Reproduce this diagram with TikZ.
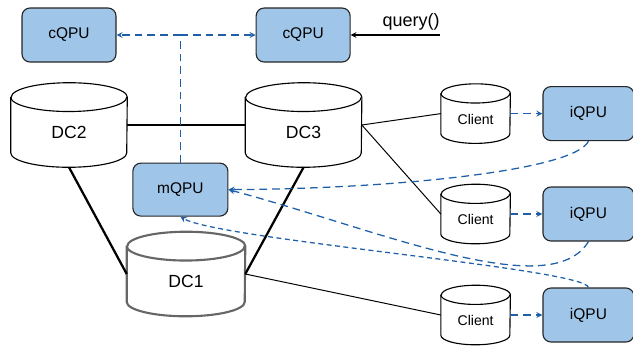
\documentclass[tikz,border=0pt]{standalone}
\usepackage{fontspec}
\setmainfont{Liberation Sans}
\usetikzlibrary{arrows, positioning}
\usepackage{xcolor}

\definecolor{qpufill}{HTML}{9FC5E8}
\definecolor{linkblue}{HTML}{1F5FA8}

% outline of a drum round a named node: [style]{node}{x radius}{y radius}
\newcommand{\drawdrum}[4][]{%
    \draw[#1] ([yshift=-#4]#2.north west) -- ([yshift=#4]#2.south west)
        arc[start angle=180, end angle=360, x radius=#3, y radius=#4]
        -- ([yshift=-#4]#2.north east)
        arc[start angle=0, end angle=180, x radius=#3, y radius=#4] -- cycle;
    \draw[#1] ([yshift=-#4]#2.north west)
        arc[start angle=180, end angle=360, x radius=#3, y radius=#4];
}

\begin{document}
\begin{tikzpicture}[
        qpu/.style={rectangle, rounded corners=0.2cm, minimum width=2.35cm, minimum height=1.35cm, text centered, draw=black!85, line width=0.8pt, fill=qpufill, font=\fontsize{11}{13}\selectfont},
        dc/.style={rectangle, inner sep=0pt, text height=0.66cm, text depth=0pt, minimum width=2.9cm, minimum height=2.1cm, font=\fontsize{12.5}{15}\selectfont},
        client/.style={rectangle, inner sep=0pt, text height=0.53cm, text depth=0pt, minimum width=1.725cm, minimum height=1.475cm, font=\fontsize{10}{12}\selectfont},
        drum/.style={line width=0.8pt, line join=round},
        wire/.style={line width=0.7pt},
        backbone/.style={line width=1.6pt},
        link/.style={draw=linkblue, line width=0.9pt, dash pattern=on 5.5pt off 3.5pt, ->, >=stealth},
        arrow/.style={line width=0.8pt,->,>=stealth}
    ]
        \useasboundingbox (0,0) rectangle (15.825,-8.65);

        % Controllers
        \node (cqpu1) [qpu] at (1.725,-0.875) {cQPU};
        \node (cqpu2) [qpu, right=3.475cm of cqpu1] {cQPU};
        \coordinate (qsrc) at (11.0,-0.875);
        \node (query) [above left=0.12cm and 0cm of qsrc, inner sep=0pt, font=\fontsize{12.8}{15}\selectfont] {query()};

        % Data centres
        \node (dc2) [dc] at (1.725,-3.125) {DC2};
        \node (dc3) [dc, right=2.95cm of dc2] {DC3};
        \node (dc1) [dc, minimum width=2.95cm] at (4.65,-6.85) {DC1};
        \drawdrum[drum]{dc2}{1.45cm}{0.36cm}
        \drawdrum[drum]{dc3}{1.45cm}{0.36cm}
        \drawdrum[drum, draw=black!60, line width=1.5pt]{dc1}{1.475cm}{0.36cm}
        \node (mqpu) [qpu, minimum width=2.375cm, minimum height=1.325cm] at (4.51,-4.74) {mQPU};
        \coordinate (split) at (mqpu |- cqpu1);

        % Clients and their iQPUs
        \node (client1) [client] at (11.89,-2.84) {Client};
        \node (client2) [client] at (11.89,-5.35) {Client};
        \node (client3) [client] at (11.89,-7.875) {Client};
        \drawdrum[drum]{client1}{0.8625cm}{0.24cm}
        \drawdrum[drum]{client2}{0.8625cm}{0.24cm}
        \drawdrum[drum]{client3}{0.8625cm}{0.24cm}
        \node (iqpu1) [qpu, minimum width=2.275cm, right=0.8cm of client1] {iQPU};
        \node (iqpu2) [qpu, minimum width=2.275cm, right=0.8cm of client2] {iQPU};
        \node (iqpu3) [qpu, minimum width=2.275cm, right=0.8cm of client3] {iQPU};

        % Links between data centres
        \draw [backbone] (dc2.east) -- (dc3.west);
        \draw [backbone] (dc2.south) -- (dc1.west);
        \draw [backbone] (dc3.south) -- (dc1.east);
        \draw [wire] (dc3.east) -- (client1.west);
        \draw [wire] (dc3.east) -- (client2.west);
        \draw [wire] (dc1.east) -- (client3.west);

        % Query path
        \draw [arrow] (qsrc) -- (cqpu2.east);
        \draw [link, -] (mqpu.north) -- (split);
        \draw [link] (split) -- (cqpu1.east);
        \draw [link] (split) -- (cqpu2.west);

        % Clients to iQPUs
        \draw [link] (client1.east) -- (iqpu1.west);
        \draw [link] (client2.east) -- (iqpu2.west);
        \draw [link] (client3.east) -- (iqpu3.west);

        % Results back to mQPU
        \draw [link] (iqpu1.south) .. controls +(-0.33,-0.72) and +(4.25,0.02) .. (mqpu.east);
        \draw [link] (iqpu2.south) .. controls +(-0.95,-1.57) and +(3.8,-1.02) .. (mqpu.east);
        \draw [link, dash pattern=on 3.5pt off 2.5pt] (iqpu3.north) .. controls +(-0.08,0.47) and +(0.95,-0.57) .. (mqpu.south);

    \end{tikzpicture}
\end{document}
